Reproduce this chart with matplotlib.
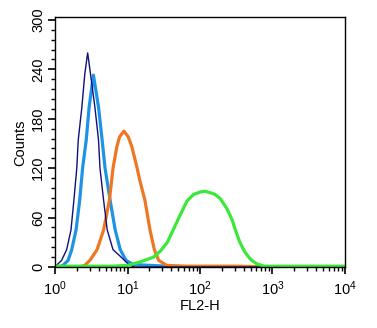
import numpy as np
import matplotlib
matplotlib.use("Agg")
import matplotlib.pyplot as plt
from matplotlib.ticker import LogLocator, MultipleLocator, NullFormatter

plt.rcParams['font.family'] = ['Liberation Sans', 'DejaVu Sans']

# histogram traces: log10(FL2-H) and counts
navy_log = [0.00, 0.02, 0.09, 0.16, 0.22, 0.26, 0.30, 0.32, 0.37, 0.41, 0.45,
            0.49, 0.55, 0.60, 0.62, 0.67, 0.72, 0.80, 0.90, 0.97, 1.03, 1.10, 4.00]
navy_cnt = [0, 2, 8, 21, 45, 81, 120, 154, 194, 234, 260,
            234, 194, 154, 120, 81, 45, 21, 13, 7, 2, 0, 0]

blue_log = [0.00, 0.05, 0.11, 0.18, 0.23, 0.29, 0.34, 0.38, 0.43, 0.47, 0.53,
            0.60, 0.65, 0.69, 0.76, 0.83, 0.90, 0.98, 1.08, 1.30, 1.55, 1.65, 4.00]
blue_cnt = [0, 0, 2, 8, 21, 45, 81, 120, 154, 194, 233,
            194, 154, 120, 81, 45, 21, 8, 3, 2, 1, 0, 0]

orange_log = [0.00, 0.34, 0.41, 0.48, 0.58, 0.67, 0.75, 0.80, 0.85, 0.89, 0.95,
              1.01, 1.06, 1.13, 1.17, 1.24, 1.31, 1.37, 1.43, 1.54, 1.80, 2.50, 3.00, 4.00]
orange_cnt = [0, 0, 2, 8, 21, 45, 81, 120, 145, 158, 165,
              158, 146, 121, 105, 81, 45, 21, 8, 2, 1, 1, 0, 0]

green_log = [0.00, 0.80, 1.00, 1.17, 1.36, 1.45, 1.55, 1.63, 1.72, 1.82, 1.91,
             2.00, 2.07, 2.15, 2.21, 2.28, 2.37, 2.44, 2.50, 2.55, 2.62, 2.70,
             2.78, 2.88, 3.20, 4.00]
green_cnt = [1, 1, 2, 6, 12, 19, 30, 45, 62, 80, 88,
             91, 92, 90, 88, 83, 71, 58, 42, 30, 18, 9,
             4, 1, 1, 1]

fig = plt.figure(figsize=(3.77, 3.28), dpi=100)
ax = fig.add_axes([0.146, 0.1845, 0.769, 0.7635])

ax.plot(10 ** np.array(blue_log), blue_cnt, color='#1e93e6', lw=2.3)
ax.plot(10 ** np.array(orange_log), orange_cnt, color='#f07722', lw=2.3)
ax.plot(10 ** np.array(navy_log), navy_cnt, color='#10107e', lw=1.0)
ax.plot(10 ** np.array(green_log), green_cnt, color='#3ae83a', lw=2.3)

ax.set_xscale('log')
ax.set_xlim(1, 1e4)
ax.set_ylim(-0.6, 303.5)
ax.xaxis.set_major_locator(LogLocator(base=10, numticks=10))
ax.xaxis.set_minor_locator(LogLocator(base=10, subs=np.arange(2, 10), numticks=20))
ax.xaxis.set_minor_formatter(NullFormatter())
ax.yaxis.set_major_locator(MultipleLocator(60))
ax.yaxis.set_minor_locator(MultipleLocator(12))

ax.tick_params(which='major', direction='out', length=5, width=1.2, labelsize=10.5, color='black')
ax.tick_params(which='minor', direction='out', length=3, width=1.0, color='black')
ax.tick_params(axis='y', which='major', pad=2)
for lbl in ax.get_yticklabels():
    lbl.set_rotation(90)
    lbl.set_va('center')

for sp in ax.spines.values():
    sp.set_linewidth(1.0)

ax.set_ylabel('Counts', fontsize=10.5, labelpad=3)
ax.set_xlabel('FL2-H', fontsize=10.5, labelpad=1)

fig.savefig('out.png', dpi=100)
